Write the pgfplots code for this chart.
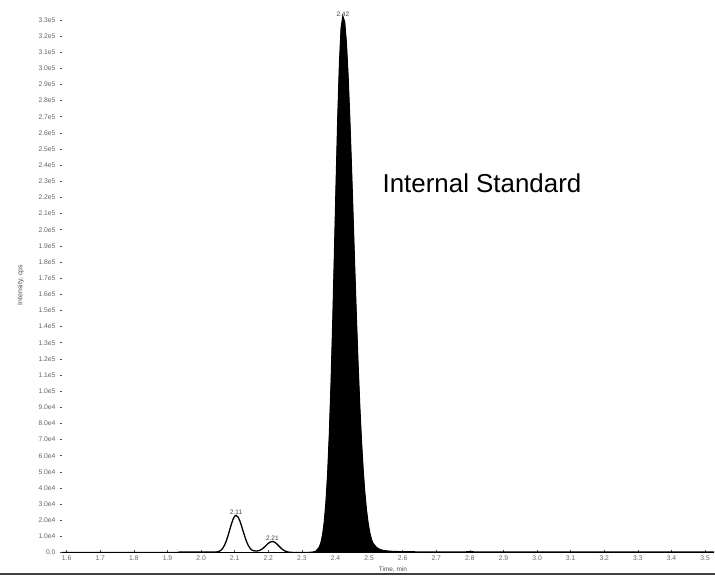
\documentclass[border=0pt]{standalone}
\usepackage{pgfplots}
\pgfplotsset{compat=1.18}
\usepackage{fontspec}
\setmainfont{Liberation Sans}

\begin{document}
\begin{tikzpicture}
\useasboundingbox (0,0) rectangle (715bp,577bp);
\begin{axis}[
  at={(62bp,24.5bp)}, anchor=south west,
  scale only axis, width=652bp, height=542.2bp,
  xmin=1.586, xmax=3.5265, ymin=0, ymax=336000,
  axis x line=bottom, axis y line=left,
  x axis line style={-, line width=1.2bp},
  y axis line style={draw=none},
  xtick align=inside, ytick align=outside,
  major tick length=2.5bp,
  every tick/.style={black!70, line width=0.6bp},
  xtick={1.6,1.7,1.8,1.9,2.0,2.1,2.2,2.3,2.4,2.5,2.6,2.7,2.8,2.9,3.0,3.1,3.2,3.3,3.4,3.5},
  xticklabels={1.6,1.7,1.8,1.9,2.0,2.1,2.2,2.3,2.4,2.5,2.6,2.7,2.8,2.9,3.0,3.1,3.2,3.3,3.4,3.5},
  ytick={0,10000,20000,30000,40000,50000,60000,70000,80000,90000,100000,110000,120000,130000,140000,150000,160000,170000,180000,190000,200000,210000,220000,230000,240000,250000,260000,270000,280000,290000,300000,310000,320000,330000},
  yticklabels={0.0,1.0e4,2.0e4,3.0e4,4.0e4,5.0e4,6.0e4,7.0e4,8.0e4,9.0e4,1.0e5,1.1e5,1.2e5,1.3e5,1.4e5,1.5e5,1.6e5,1.7e5,1.8e5,1.9e5,2.0e5,2.1e5,2.2e5,2.3e5,2.4e5,2.5e5,2.6e5,2.7e5,2.8e5,2.9e5,3.0e5,3.1e5,3.2e5,3.3e5},
  tick label style={font=\fontsize{6.8}{7}\selectfont, black!60},
  xticklabel style={yshift=-2bp, inner sep=1bp},
  yticklabel style={xshift=-0.5bp},
  scaled ticks=false,
]
% internal standard peak, filled
\addplot[fill=black, draw=black, line width=0.6bp] coordinates {
  (2.300,0) (2.322,50) (2.332,157) (2.342,787) (2.352,3247) (2.357,6140)
  (2.362,11088) (2.367,19079) (2.372,31333) (2.377,49114) (2.382,73421)
  (2.387,104586) (2.392,142212) (2.397,184436) (2.402,228155) (2.407,269177)
  (2.412,302940) (2.417,325183) (2.422,332000) (2.427,328681) (2.432,316095)
  (2.437,296183) (2.442,270410) (2.447,240542) (2.452,208473) (2.457,176041)
  (2.462,144842) (2.467,116107) (2.472,90668) (2.477,68993) (2.482,51177)
  (2.487,36960) (2.492,26038) (2.497,17847) (2.502,11920) (2.507,7758)
  (2.512,5500) (2.522,3000) (2.532,1800) (2.542,1200) (2.557,800)
  (2.572,600) (2.610,400)
} \closedcycle;
% full trace
\addplot[black, line width=1.3bp] coordinates {
  (1.586,0) (1.930,0) (1.935,250) (1.960,220) (1.990,280) (2.020,250)
  (2.040,290) (2.045,330) (2.050,480) (2.055,850) (2.060,1573) (2.065,2797)
  (2.070,4639) (2.075,7176) (2.080,10359) (2.085,13950) (2.090,17531)
  (2.095,20560) (2.100,22496) (2.104,23000) (2.110,21988) (2.115,19771)
  (2.120,16700) (2.125,13253) (2.130,9881) (2.135,6918) (2.140,4552)
  (2.145,2830) (2.150,1700) (2.155,1150) (2.160,1000) (2.165,950)
  (2.170,1050) (2.175,1400) (2.180,1950) (2.185,2734) (2.190,3714)
  (2.195,4738) (2.200,5680) (2.205,6396) (2.212,6800) (2.218,6469)
  (2.223,5751) (2.228,4769) (2.233,3692) (2.238,2666) (2.243,1797)
  (2.248,1129) (2.253,663) (2.258,362) (2.263,185) (2.268,88) (2.275,28)
  (2.290,0) (2.300,0) (2.322,50) (2.332,157) (2.342,787) (2.352,3247)
  (2.357,6140) (2.362,11088) (2.367,19079) (2.372,31333) (2.377,49114)
  (2.382,73421) (2.387,104586) (2.392,142212) (2.397,184436) (2.402,228155)
  (2.407,269177) (2.412,302940) (2.417,325183) (2.422,332000) (2.427,328681)
  (2.432,316095) (2.437,296183) (2.442,270410) (2.447,240542) (2.452,208473)
  (2.457,176041) (2.462,144842) (2.467,116107) (2.472,90668) (2.477,68993)
  (2.482,51177) (2.487,36960) (2.492,26038) (2.497,17847) (2.502,11920)
  (2.507,7758) (2.512,5500) (2.522,3000) (2.532,1800) (2.542,1200)
  (2.557,800) (2.572,600) (2.610,400) (2.700,300) (2.800,380) (2.900,300)
  (3.000,260) (3.100,320) (3.200,300) (3.300,260) (3.400,320) (3.5265,300)
};
\node[above, inner sep=1bp, font=\fontsize{6.5}{7}\selectfont, black!75] at (axis cs:2.104,23000) {2.11};
\node[above, inner sep=1bp, font=\fontsize{6.5}{7}\selectfont, black!75] at (axis cs:2.212,6800) {2.21};
\node[above, inner sep=0.5bp, font=\fontsize{6.5}{7}\selectfont, black!75] at (axis cs:2.422,332000) {2.42};
\node[font=\fontsize{26}{30}\selectfont] at (axis cs:2.836,228700) {Internal Standard};
\end{axis}
\node[rotate=90, font=\fontsize{7}{8}\selectfont, black!70] at (20.5bp,292bp) {Intensity, cps};
\node[font=\fontsize{6.5}{7}\selectfont, black!70, inner sep=0.5bp] at (393bp,7.5bp) {Time, min};
\draw[line width=2bp, black!75] (0,3bp) -- (715bp,3bp);
\end{tikzpicture}
\end{document}
